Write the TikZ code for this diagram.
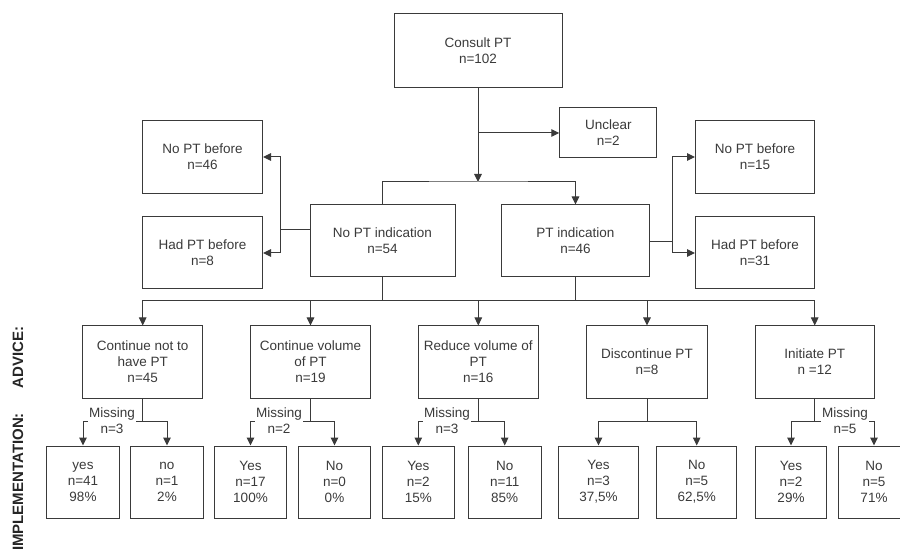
\documentclass[tikz,border=0pt]{standalone}
\usepackage{fontspec}
\setmainfont{Liberation Sans}
\usetikzlibrary{arrows.meta}
\definecolor{ink}{HTML}{3a3a3a}
\definecolor{labelink}{HTML}{262626}
\begin{document}
\begin{tikzpicture}[x=1pt,y=-1pt,line width=1pt,color=ink,
  txt/.style={font=\fontsize{13.5}{16}\selectfont},
  box/.style={draw,txt,align=center,inner sep=0pt},
  sz/.style 2 args={minimum width=#1pt,minimum height=#2pt},
  arr/.style={-{Triangle[length=8pt,width=7.5pt]}},
  miss/.style={txt,fill=white,align=center,inner sep=1pt},
  side/.style={font=\fontsize{15}{18}\selectfont\bfseries,rotate=90,text=labelink}]
\useasboundingbox (0,0) rectangle (900,553);
\clip (0,0) rectangle (900,553);

% top of the tree
\node[box,sz={168}{74}] (consult) at (478,51) {Consult PT\\n=102};
\node[box,sz={97}{50}] (unclear) at (608.3,133) {Unclear\\n=2};
\node[box,sz={145}{72}] (noind) at (382.5,241) {No PT indication\\n=54};
\node[box,sz={148}{72}] (ptind) at (575.5,241) {PT indication\\n=46};

% history boxes
\node[box,sz={120}{73}] (nobefL) at (202.5,157) {No PT before\\n=46};
\node[box,sz={120}{72}] (hadL) at (202.5,253) {Had PT before\\n=8};
\node[box,sz={119}{73}] (nobefR) at (755,157) {No PT before\\n=15};
\node[box,sz={119}{72}] (hadR) at (755,253) {Had PT before\\n=31};

% advice row
\node[box,sz={120}{72}] (a1) at (142.7,362) {Continue not to\\have PT\\n=45};
\node[box,sz={120}{72}] (a2) at (310.5,362) {Continue volume\\of PT\\n=19};
\node[box,sz={120}{72}] (a3) at (478.3,362) {Reduce volume of\\PT\\n=16};
\node[box,sz={121}{72}] (a4) at (647,362) {Discontinue PT\\n=8};
\node[box,sz={119}{72}] (a5) at (814.7,362) {Initiate PT\\n =12};

% implementation row
\node[box,sz={72.6}{72}] (y1) at (83,482) {yes\\n=41\\98\%};
\node[box,sz={72.3}{72}] (n1) at (167,482) {no\\n=1\\2\%};
\node[box,sz={72.4}{72}] (y2) at (250.5,482) {Yes\\n=17\\100\%};
\node[box,sz={72.4}{72}] (n2) at (334.5,482) {No\\n=0\\0\%};
\node[box,sz={72}{72}] (y3) at (418.3,482) {Yes\\n=2\\15\%};
\node[box,sz={72.7}{72}] (n3) at (504.7,482) {No\\n=11\\85\%};
\node[box,sz={80.4}{72}] (y4) at (598.5,482) {Yes\\n=3\\37,5\%};
\node[box,sz={80}{72}] (n4) at (696.7,482) {No\\n=5\\62,5\%};
\node[box,sz={71.4}{72}] (y5) at (791,482) {Yes\\n=2\\29\%};
\node[box,sz={72}{72}] (n5) at (874,482) {No\\n=5\\71\%};

% connectors from the consultation
\coordinate (j1) at (478,182);
\draw[arr] (consult.south) -- (j1);
\draw[arr] (consult.south |- unclear.west) -- (unclear.west);
\draw[arr] (noind.north) |- (j1) -| (ptind.north);

% history branches
\coordinate (lj) at (280,229.3);
\draw[arr] (noind.west |- lj) -- (lj) |- (nobefL.east);
\draw[arr] (lj) |- (hadL.east);
\coordinate (rj) at (672,241.3);
\draw[arr] (ptind.east |- rj) -- (rj) |- (nobefR.west);
\draw[arr] (rj) |- (hadR.west);

% bus to the advice row
\coordinate (bus) at (0,301);
\draw[arr] (noind.south) -- (noind.south |- bus) -| (a1.north);
\draw[arr] (noind.south |- bus) -| (a2.north);
\draw[arr] (noind.south |- bus) -| (a3.north);
\draw (a3.north |- bus) -- (ptind.south |- bus);
\draw[arr] (ptind.south) -- (ptind.south |- bus) -| (a4.north);
\draw[arr] (ptind.south |- bus) -| (a5.north);

% advice to implementation
\coordinate (lvl) at (0,421);
\foreach \a/\y/\n in {a1/y1/n1,a2/y2/n2,a3/y3/n3,a4/y4/n4,a5/y5/n5}{
  \draw[arr] (\a.south) -- (\a.south |- lvl) -| (\y.north);
  \draw[arr] (\a.south |- lvl) -| (\n.north);
}

% missing counts
\node[miss] (m1) at (112,421) {Missing\\n=3};
\node[miss] (m2) at (279,421) {Missing\\n=2};
\node[miss] (m3) at (447,421) {Missing\\n=3};
\node[miss] (m5) at (845,421) {Missing\\n=5};

% row captions
\node[side] (advice) at (18,357.5) {ADVICE:};
\node[side] (impl) at (18,482) {IMPLEMENTATION:};
\end{tikzpicture}
\end{document}
